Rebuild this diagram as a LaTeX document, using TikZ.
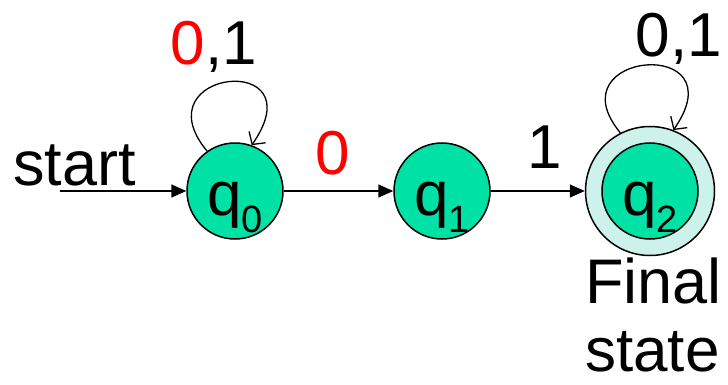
\documentclass[tikz,border=0pt]{standalone}
\usepackage{fontspec}
\setmainfont{Liberation Sans}
\usetikzlibrary{arrows.meta}
\definecolor{stfill}{RGB}{0,225,165}
\definecolor{ringfill}{RGB}{205,242,236}
\definecolor{lblred}{RGB}{255,0,0}
\begin{document}
\begin{tikzpicture}[x=1pt,y=-1pt,
  state/.style={circle,draw,line width=1.5pt,fill=stfill,minimum size=96pt,inner sep=0pt,
    text height=48pt,text depth=0pt,font=\fontsize{62}{62}\selectfont},
  ring/.style={circle,draw,line width=1.5pt,fill=ringfill,minimum size=129pt,inner sep=0pt},
  edgeline/.style={line width=1.5pt,-{Triangle[length=15pt,width=13pt]}},
  loopline/.style={line width=1.3pt,-{Straight Barb[length=9pt,width=20pt]}},
  lbl/.style={font=\fontsize{62}{62}\selectfont,anchor=base,inner sep=0pt},
  word/.style={font=\fontsize{63}{63}\selectfont,anchor=base west,inner sep=0pt}]
\useasboundingbox (0,0) rectangle (728,385);
\node[ring] (q2o) at (650,191) {};
\node[state] (q0) at (235,191) {q\raisebox{-17pt}{\fontsize{38}{38}\selectfont 0}};
\node[state] (q1) at (442,191) {q\raisebox{-17pt}{\fontsize{38}{38}\selectfont 1}};
\node[state] (q2) at (650,191) {q\raisebox{-17pt}{\fontsize{38}{38}\selectfont 2}};
\coordinate (s) at (60,191);
\draw[edgeline] (s) -- (q0);
\draw[edgeline] (q0) -- (q1);
\draw[edgeline] (q1) -- (q2o);
\draw[loopline] (q0.125) .. controls +(-68,-82) and +(66,-95) .. (q0.70);
\draw[loopline] (q2o.117) .. controls +(-68,-82) and +(66,-95) .. (q2o.69);
\node[lbl] (l0) at (214,65) {\textcolor{lblred}{0},1};
\node[lbl,text=lblred] (l01) at (333,175) {0};
\node[lbl] (l1) at (545,168) {1};
\node[lbl] (l2) at (679,57) {0,1};
\node[word] (st) at (13,185) {start};
\node[word] (fin) at (585,303) {Final};
\node[word,font=\fontsize{62}{62}\selectfont] (sta) at (585,371) {state};
\end{tikzpicture}
\end{document}
